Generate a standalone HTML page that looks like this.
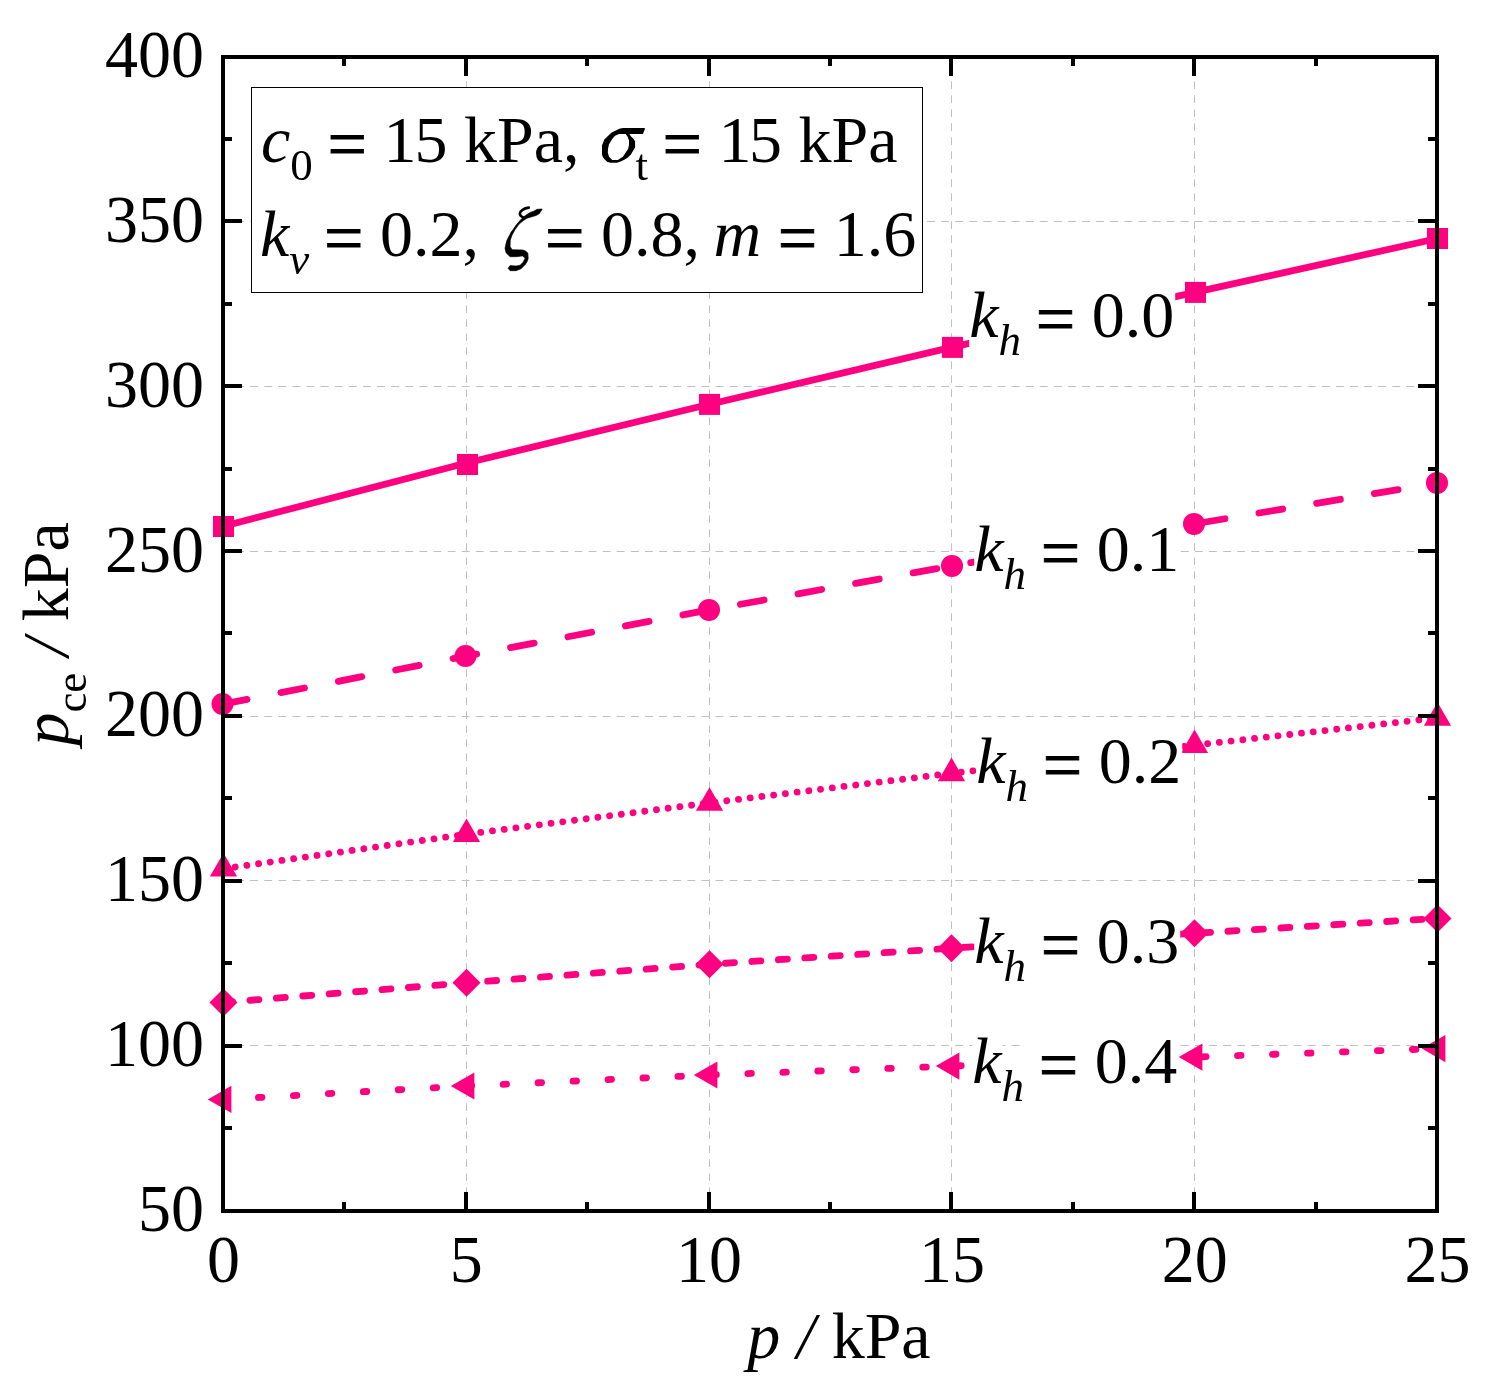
<!DOCTYPE html><html><head><meta charset="utf-8"><style>html,body{margin:0;padding:0;background:#fff;overflow:hidden}svg{display:block;will-change:transform}text{font-family:"Liberation Serif",serif}</style></head><body>
<svg width="1493" height="1395" viewBox="0 0 1493 1395">
<rect x="0" y="0" width="1493" height="1395" fill="#fff"/>
<g><line x1="466.5" y1="1209" x2="466.5" y2="59" stroke="#c0c0c0" stroke-width="1" stroke-dasharray="7.7 6.3"/><line x1="709.5" y1="1209" x2="709.5" y2="59" stroke="#c0c0c0" stroke-width="1" stroke-dasharray="7.7 6.3"/><line x1="951.5" y1="1209" x2="951.5" y2="59" stroke="#c0c0c0" stroke-width="1" stroke-dasharray="7.7 6.3"/><line x1="1194.5" y1="1209" x2="1194.5" y2="59" stroke="#c0c0c0" stroke-width="1" stroke-dasharray="7.7 6.3"/><line x1="222" y1="221.5" x2="1435" y2="221.5" stroke="#c0c0c0" stroke-width="1" stroke-dasharray="7.9 6.2"/><line x1="222" y1="386.5" x2="1435" y2="386.5" stroke="#c0c0c0" stroke-width="1" stroke-dasharray="7.9 6.2"/><line x1="222" y1="551.5" x2="1435" y2="551.5" stroke="#c0c0c0" stroke-width="1" stroke-dasharray="7.9 6.2"/><line x1="222" y1="716.5" x2="1435" y2="716.5" stroke="#c0c0c0" stroke-width="1" stroke-dasharray="7.9 6.2"/><line x1="222" y1="880.5" x2="1435" y2="880.5" stroke="#c0c0c0" stroke-width="1" stroke-dasharray="7.9 6.2"/><line x1="222" y1="1045.5" x2="1435" y2="1045.5" stroke="#c0c0c0" stroke-width="1" stroke-dasharray="7.9 6.2"/></g>
<g fill="none" stroke="#ff0080" stroke-width="6.8" stroke-linejoin="round">
<polyline points="223.5,526.3 466.5,463.0 709.5,404.3 951.5,347.4 1194.5,292.4 1437.5,238.5" stroke-linecap="butt"/>
<polyline points="223.5,704.0 466.5,656.0 709.5,609.9 951.5,565.9 1194.5,523.9 1437.5,482.9" stroke-linecap="round" stroke-dasharray="24 34.5"/>
<polyline points="223.5,868.7 466.5,834.2 709.5,802.9 951.5,773.3 1194.5,745.2 1437.5,717.9" stroke-linecap="round" stroke-dasharray="0.01 11.8"/>
<polyline points="223.5,1002.4 466.5,982.8 709.5,964.3 951.5,948.2 1194.5,933.3 1437.5,918.4" stroke-linecap="round" stroke-dasharray="9 17.5"/>
<polyline points="223.5,1099.4 466.5,1086.0 709.5,1075.0 951.5,1066.1 1194.5,1057.1 1437.5,1048.6" stroke-linecap="round" stroke-dasharray="3.5 31.5"/>
</g>
<g fill="#ff0080"><rect x="213.0" y="516.0" width="21" height="21"/><rect x="457.0" y="454.0" width="21" height="21"/><rect x="699.0" y="393.9" width="21" height="21"/><rect x="942.0" y="336.9" width="21" height="21"/><rect x="1185.0" y="281.9" width="21" height="21"/><rect x="1427.0" y="228.0" width="21" height="21"/><circle cx="222.5" cy="704.0" r="11"/><circle cx="465.5" cy="656.0" r="11"/><circle cx="709" cy="609.9" r="11"/><circle cx="952" cy="565.9" r="11"/><circle cx="1194" cy="523.9" r="11"/><circle cx="1437" cy="482.9" r="11"/><polygon points="223.50,853.00 237.10,876.55 209.90,876.55"/><polygon points="466.50,818.50 480.10,842.05 452.90,842.05"/><polygon points="709.50,787.20 723.10,810.75 695.90,810.75"/><polygon points="951.50,757.60 965.10,781.15 937.90,781.15"/><polygon points="1194.50,729.50 1208.10,753.05 1180.90,753.05"/><polygon points="1437.50,702.20 1451.10,725.75 1423.90,725.75"/><polygon points="223.5,988.4 237.5,1002.4 223.5,1016.4 209.5,1002.4"/><polygon points="466.5,968.8 480.5,982.8 466.5,996.8 452.5,982.8"/><polygon points="709.5,950.3 723.5,964.3 709.5,978.3 695.5,964.3"/><polygon points="951.5,934.2 965.5,948.2 951.5,962.2 937.5,948.2"/><polygon points="1194.5,919.3 1208.5,933.3 1194.5,947.3 1180.5,933.3"/><polygon points="1437.5,904.4 1451.5,918.4 1437.5,932.4 1423.5,918.4"/><polygon points="207.80,1099.40 231.35,1085.80 231.35,1113.00"/><polygon points="450.80,1086.00 474.35,1072.40 474.35,1099.60"/><polygon points="693.80,1075.00 717.35,1061.40 717.35,1088.60"/><polygon points="935.80,1066.10 959.35,1052.50 959.35,1079.70"/><polygon points="1178.80,1057.10 1202.35,1043.50 1202.35,1070.70"/><polygon points="1421.80,1048.60 1445.35,1035.00 1445.35,1062.20"/></g>
<rect x="969.2" y="277.7" width="30.3" height="73.1" fill="#fff"/>
<rect x="998.5" y="311.4" width="23.5" height="52.8" fill="#fff"/>
<rect x="1021.0" y="277.7" width="154.2" height="73.1" fill="#fff"/>
<text x="969.2" y="336.5" font-size="66"><tspan font-style="italic">k</tspan><tspan font-style="italic" font-size="45" dy="18">h</tspan><tspan dy="-18"> </tspan><tspan font-size="70" dx="-1.7" dy="6.4" stroke="#000" stroke-width="0.8">=</tspan><tspan dy="-6.4"> 0.0</tspan></text>
<rect x="974.2" y="511.7" width="30.3" height="73.1" fill="#fff"/>
<rect x="1003.5" y="545.4" width="23.5" height="52.8" fill="#fff"/>
<rect x="1026.0" y="511.7" width="154.2" height="73.1" fill="#fff"/>
<text x="974.2" y="570.5" font-size="66"><tspan font-style="italic">k</tspan><tspan font-style="italic" font-size="45" dy="18">h</tspan><tspan dy="-18"> </tspan><tspan font-size="70" dx="-1.7" dy="6.4" stroke="#000" stroke-width="0.8">=</tspan><tspan dy="-6.4"> 0.1</tspan></text>
<rect x="976.2" y="724.2" width="30.3" height="73.1" fill="#fff"/>
<rect x="1005.5" y="757.9" width="23.5" height="52.8" fill="#fff"/>
<rect x="1028.0" y="724.2" width="154.2" height="73.1" fill="#fff"/>
<text x="976.2" y="783" font-size="66"><tspan font-style="italic">k</tspan><tspan font-style="italic" font-size="45" dy="18">h</tspan><tspan dy="-18"> </tspan><tspan font-size="70" dx="-1.7" dy="6.4" stroke="#000" stroke-width="0.8">=</tspan><tspan dy="-6.4"> 0.2</tspan></text>
<rect x="974.2" y="904.2" width="30.3" height="73.1" fill="#fff"/>
<rect x="1003.5" y="937.9" width="23.5" height="52.8" fill="#fff"/>
<rect x="1026.0" y="904.2" width="154.2" height="73.1" fill="#fff"/>
<text x="974.2" y="963" font-size="66"><tspan font-style="italic">k</tspan><tspan font-style="italic" font-size="45" dy="18">h</tspan><tspan dy="-18"> </tspan><tspan font-size="70" dx="-1.7" dy="6.4" stroke="#000" stroke-width="0.8">=</tspan><tspan dy="-6.4"> 0.3</tspan></text>
<rect x="972.2" y="1024.2" width="30.3" height="73.1" fill="#fff"/>
<rect x="1001.5" y="1057.9" width="23.5" height="52.8" fill="#fff"/>
<rect x="1024.0" y="1024.2" width="154.2" height="73.1" fill="#fff"/>
<text x="972.2" y="1083" font-size="66"><tspan font-style="italic">k</tspan><tspan font-style="italic" font-size="45" dy="18">h</tspan><tspan dy="-18"> </tspan><tspan font-size="70" dx="-1.7" dy="6.4" stroke="#000" stroke-width="0.8">=</tspan><tspan dy="-6.4"> 0.4</tspan></text>
<rect x="251.5" y="87.5" width="671" height="205" fill="#fff" stroke="#000" stroke-width="1"/>
<text x="260.9" y="161.5" font-size="66"><tspan font-style="italic">c</tspan><tspan font-size="45" dy="18">0</tspan><tspan dy="-18"> </tspan><tspan font-size="70" dx="-1.7" dy="6.4" stroke="#000" stroke-width="0.8">=</tspan><tspan dy="-6.4"> 1<tspan dx="-2">5 kPa,</tspan></tspan></text>
<path d="M644.8,127.9 L622.9,127.9 L619.2,128.8 L616.9,130.0 L614.1,131.2 L611.3,132.8 L609.0,134.9 L606.6,137.2 L604.3,139.6 L603.2,142.4 L602.0,145.2 L602.0,154.5 L602.9,157.3 L605.0,159.8 L607.1,161.7 L610.4,162.8 L616.9,162.8 L620.6,161.5 L624.8,159.6 L627.6,157.7 L630.9,154.5 L633.7,149.8 L635.1,147.5 L635.1,141.4 L633.7,139.1 L631.3,136.8 L629.7,134.4 L629.5,133.9 L643.0,133.9 L643.9,131.6 L644.8,129.3 Z M615.0,135.8 L612.2,139.1 L610.4,141.9 L609.0,144.2 L608.0,148.9 L607.8,152.6 L609.0,156.8 L612.2,160.1 L617.8,160.1 L622.9,156.8 L625.7,152.6 L628.1,148.9 L629.0,144.7 L629.0,140.5 L627.6,136.8 L625.7,133.9 L619.2,133.9 Z" fill="#000" fill-rule="evenodd"/>
<text x="635.5" y="179.5" font-size="45">t</text>
<text x="662.5" y="161.5" font-size="66"><tspan font-size="70" dy="6.4" stroke="#000" stroke-width="0.8">=</tspan><tspan dy="-6.4"> 1<tspan dx="-2.5">5 kPa</tspan></tspan></text>
<text x="260" y="256" font-size="66"><tspan font-style="italic">k</tspan><tspan font-style="italic" font-size="45" dy="18">v</tspan><tspan dy="-18"> </tspan><tspan font-size="70" dx="-1.7" dy="6.4" stroke="#000" stroke-width="0.8">=</tspan><tspan dy="-6.4"> 0.2,</tspan></text>
<path d="M542.2,209.2 L539.2,213.8 L536.1,215.5 L531.1,217.0 L527.1,218.2 L523.5,220.5 L519.1,224.1 L515.1,229.6 L512.1,235.1 L510.3,240.1 L510.1,246.6 L512.1,249.7 L522.6,249.9 L525.6,250.9 L527.9,253.2 L528.2,258.7 L527.1,261.7 L525.1,264.7 L521.1,268.7 L516.1,270.7 L510.1,270.7 L508.0,268.2 L510.1,265.6 L516.1,266.0 L520.1,265.2 L523.1,262.2 L525.1,258.2 L522.6,255.9 L516.1,256.7 L510.1,256.7 L506.0,252.7 L505.0,248.2 L506.0,243.6 L507.0,240.1 L509.1,236.1 L511.1,232.1 L513.1,229.6 L516.1,225.1 L520.0,220.5 L524.0,216.5 L525.1,215.8 L530.1,212.5 L534.1,211.0 L537.1,209.3 L541.9,209.0 Z" fill="#000" stroke="#000" stroke-width="0.6" stroke-linejoin="round"/>
<path d="M528.8,207.6 C524,208.2 519.8,211 519.8,213.8 C519.9,215.8 521.8,217 523.8,217.8" fill="none" stroke="#000" stroke-width="2.6" stroke-linecap="round"/>
<text x="545" y="256" font-size="66"><tspan font-size="70" dy="6.4" stroke="#000" stroke-width="0.8">=</tspan><tspan dy="-6.4"> 0.8,<tspan dx="-3"> </tspan><tspan font-style="italic">m</tspan> </tspan><tspan font-size="70" dy="6.4" stroke="#000" stroke-width="0.8">=</tspan><tspan dy="-6.4"> 1.6</tspan></text>
<g stroke="#000" stroke-width="4"><rect x="223" y="57" width="1214" height="1154" fill="none" stroke="#000" stroke-width="4"/><line x1="344.0" y1="1211" x2="344.0" y2="1202"/><line x1="344.0" y1="57" x2="344.0" y2="66"/><line x1="466.0" y1="1211" x2="466.0" y2="1192"/><line x1="466.0" y1="57" x2="466.0" y2="76"/><line x1="587.0" y1="1211" x2="587.0" y2="1202"/><line x1="587.0" y1="57" x2="587.0" y2="66"/><line x1="709.0" y1="1211" x2="709.0" y2="1192"/><line x1="709.0" y1="57" x2="709.0" y2="76"/><line x1="830.0" y1="1211" x2="830.0" y2="1202"/><line x1="830.0" y1="57" x2="830.0" y2="66"/><line x1="951.0" y1="1211" x2="951.0" y2="1192"/><line x1="951.0" y1="57" x2="951.0" y2="76"/><line x1="1073.0" y1="1211" x2="1073.0" y2="1202"/><line x1="1073.0" y1="57" x2="1073.0" y2="66"/><line x1="1194.0" y1="1211" x2="1194.0" y2="1192"/><line x1="1194.0" y1="57" x2="1194.0" y2="76"/><line x1="1316.0" y1="1211" x2="1316.0" y2="1202"/><line x1="1316.0" y1="57" x2="1316.0" y2="66"/><line x1="223" y1="1128.0" x2="232" y2="1128.0"/><line x1="1437" y1="1128.0" x2="1428" y2="1128.0"/><line x1="223" y1="1046.0" x2="242" y2="1046.0"/><line x1="1437" y1="1046.0" x2="1418" y2="1046.0"/><line x1="223" y1="963.0" x2="232" y2="963.0"/><line x1="1437" y1="963.0" x2="1428" y2="963.0"/><line x1="223" y1="881.0" x2="242" y2="881.0"/><line x1="1437" y1="881.0" x2="1418" y2="881.0"/><line x1="223" y1="798.0" x2="232" y2="798.0"/><line x1="1437" y1="798.0" x2="1428" y2="798.0"/><line x1="223" y1="716.0" x2="242" y2="716.0"/><line x1="1437" y1="716.0" x2="1418" y2="716.0"/><line x1="223" y1="633.0" x2="232" y2="633.0"/><line x1="1437" y1="633.0" x2="1428" y2="633.0"/><line x1="223" y1="551.0" x2="242" y2="551.0"/><line x1="1437" y1="551.0" x2="1418" y2="551.0"/><line x1="223" y1="469.0" x2="232" y2="469.0"/><line x1="1437" y1="469.0" x2="1428" y2="469.0"/><line x1="223" y1="386.0" x2="242" y2="386.0"/><line x1="1437" y1="386.0" x2="1418" y2="386.0"/><line x1="223" y1="304.0" x2="232" y2="304.0"/><line x1="1437" y1="304.0" x2="1428" y2="304.0"/><line x1="223" y1="221.0" x2="242" y2="221.0"/><line x1="1437" y1="221.0" x2="1418" y2="221.0"/><line x1="223" y1="139.0" x2="232" y2="139.0"/><line x1="1437" y1="139.0" x2="1428" y2="139.0"/></g>
<g font-size="66"><text transform="translate(204,1231.0) scale(1,1.03)" text-anchor="end">50</text><text transform="translate(204,1066.1) scale(1,1.03)" text-anchor="end">100</text><text transform="translate(204,901.3) scale(1,1.03)" text-anchor="end">150</text><text transform="translate(204,736.4) scale(1,1.03)" text-anchor="end">200</text><text transform="translate(204,571.6) scale(1,1.03)" text-anchor="end">250</text><text transform="translate(204,406.7) scale(1,1.03)" text-anchor="end">300</text><text transform="translate(204,241.9) scale(1,1.03)" text-anchor="end">350</text><text transform="translate(204,77.0) scale(1,1.03)" text-anchor="end">400</text><text transform="translate(223.5,1282.3) scale(1,1.03)" text-anchor="middle">0</text><text transform="translate(466.3,1282.3) scale(1,1.03)" text-anchor="middle">5</text><text transform="translate(709.1,1282.3) scale(1,1.03)" text-anchor="middle">10</text><text transform="translate(951.9,1282.3) scale(1,1.03)" text-anchor="middle">15</text><text transform="translate(1194.7,1282.3) scale(1,1.03)" text-anchor="middle">20</text><text transform="translate(1437.5,1282.3) scale(1,1.03)" text-anchor="middle">25</text></g>
<text x="747.3" y="1358" font-size="66"><tspan font-style="italic">p</tspan> <tspan font-style="italic">/</tspan> kPa</text>
<text transform="translate(68,745.6) rotate(-90)" font-size="66"><tspan font-style="italic">p</tspan><tspan font-size="45" dy="18">ce</tspan><tspan dy="-18"> </tspan><tspan font-style="italic">/</tspan><tspan> kPa</tspan></text>
</svg></body></html>
